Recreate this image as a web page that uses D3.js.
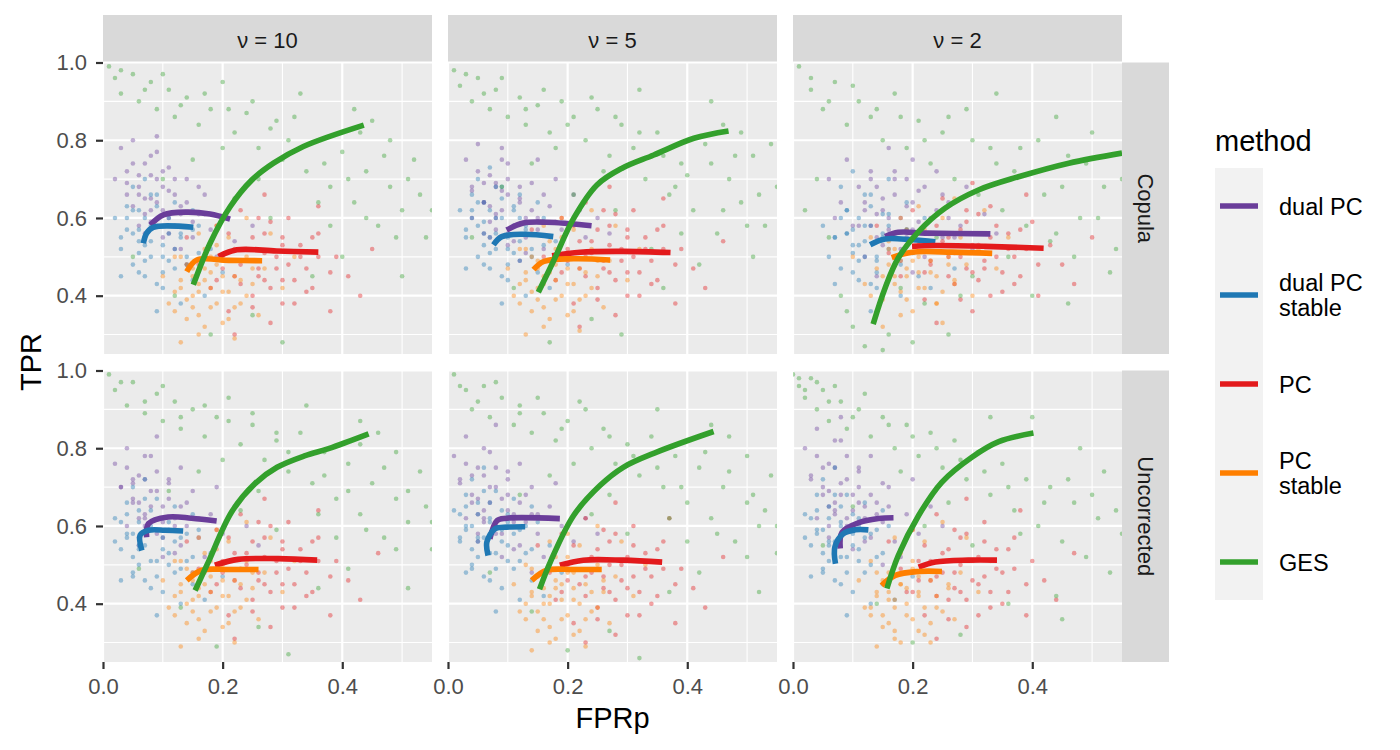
<!DOCTYPE html>
<html><head><meta charset="utf-8">
<script src="https://cdn.jsdelivr.net/npm/d3@7"></script>
<style>body{margin:0;background:#fff}text{font-family:"Liberation Sans",Arial,sans-serif}</style>
</head><body><svg id="c" width="1400" height="750"></svg>
<script>
// ---- categories ----
const nus = ["10", "5", "2"];
const corrections = ["Copula", "Uncorrected"];
const methods = ["dual PC", "dual PC\nstable", "PC", "PC\nstable", "GES"];
const methodColors = ["#6a3d9a", "#1f78b4", "#e31a1c", "#ff7f00", "#33a02c"];
const xTicks = [0, 0.2, 0.4];
const xMinor = [0.1, 0.3, 0.5];
const yTicks = [0.4, 0.6, 0.8, 1.0];
const yMinor = [0.3, 0.5, 0.7, 0.9];
const xTickLabels = ["0.0", "0.2", "0.4"];
const yTickLabels = ["0.4", "0.6", "0.8", "1.0"];
// panel order: Copula v10, Copula v5, Copula v2, Uncorrected v10, Uncorrected v5, Uncorrected v2

// ---- fitted lines (FPRp, TPR) ----
const fitDualPC = [
 [[.079,.582],[.101,.608],[.14,.615],[.179,.61],[.2125,.597]],
 [[.098,.569],[.126,.587],[.165,.589],[.24,.58]],
 [[.154,.552],[.176,.563],[.221,.561],[.33,.559]],
 [[.073,.571],[.076,.606],[.109,.623],[.148,.62],[.19,.613]],
 [[.07,.567],[.082,.614],[.098,.62],[.187,.619]],
 [[.079,.542],[.082,.584],[.109,.608],[.143,.619],[.168,.621]]
];
const fitDualPCStable = [
 [[.0675,.535],[.073,.561],[.084,.576],[.151,.576]],
 [[.076,.531],[.09,.552],[.126,.558],[.176,.552]],
 [[.129,.531],[.154,.546],[.199,.544],[.238,.539]],
 [[.065,.537],[.062,.576],[.076,.589],[.104,.589],[.134,.587]],
 [[.067,.524],[.065,.559],[.079,.593],[.098,.597],[.129,.598]],
 [[.071,.503],[.07,.546],[.084,.58],[.104,.59],[.126,.59]]
];
const fitPC = [
 [[.193,.501],[.224,.518],[.29,.515],[.36,.512]],
 [[.174,.503],[.221,.512],[.293,.514],[.372,.511]],
 [[.199,.527],[.238,.529],[.321,.527],[.419,.522]],
 [[.187,.499],[.226,.514],[.293,.516],[.358,.512]],
 [[.187,.499],[.226,.512],[.293,.512],[.358,.507]],
 [[.21,.494],[.238,.507],[.293,.512],[.341,.512]]
];
const fitPCStable = [
 [[.14,.462],[.157,.492],[.21,.491],[.266,.49]],
 [[.143,.467],[.16,.488],[.21,.495],[.271,.492]],
 [[.165,.498],[.199,.512],[.266,.512],[.333,.509]],
 [[.14,.46],[.165,.486],[.21,.488],[.26,.488]],
 [[.14,.46],[.165,.486],[.21,.488],[.257,.488]],
 [[.148,.447],[.171,.473],[.21,.483],[.249,.483]]
];
const fitGES = [
 [[.151,.428],[.179,.535],[.2125,.629],[.249,.698],[.285,.741],[.335,.784],[.436,.839]],
 [[.151,.409],[.176,.488],[.21,.599],[.249,.685],[.291,.728],[.344,.762],[.411,.805],[.469,.824]],
 [[.134,.327],[.154,.42],[.176,.497],[.21,.565],[.254,.625],[.31,.672],[.377,.706],[.461,.741],[.55,.767]],
 [[.154,.434],[.176,.507],[.215,.636],[.254,.709],[.291,.751],[.338,.781],[.377,.799],[.444,.837]],
 [[.153,.437],[.171,.507],[.21,.627],[.254,.704],[.293,.751],[.349,.79],[.444,.843]],
 [[.157,.439],[.176,.524],[.21,.627],[.249,.713],[.299,.777],[.344,.817],[.402,.839]]
];

// ---- simulation clouds (FPRp, TPR) ----
const cloudDualPC = [
 [[.03,.78],[.04,.72],[.05,.80],[.06,.68],[.07,.74],[.08,.65],[.09,.70],[.10,.62],[.11,.67],[.12,.58],[.13,.63],[.14,.70],[.15,.55],[.16,.61],[.18,.57],[.20,.60],[.22,.54],[.05,.63],[.08,.76],[.12,.52],[.06,.58],[.17,.66],[.10,.55],[.04,.66],[.19,.50],[.25,.58],[.14,.48],[.09,.81],[.02,.70],[.11,.73]],
 [[.03,.75],[.04,.68],[.05,.79],[.06,.64],[.07,.71],[.08,.61],[.09,.67],[.10,.74],[.11,.58],[.12,.65],[.13,.55],[.14,.69],[.15,.60],[.16,.52],[.17,.63],[.19,.57],[.21,.66],[.23,.55],[.25,.60],[.06,.56],[.09,.78],[.12,.49],[.18,.70],[.04,.60],[.20,.50],[.27,.56],[.15,.75],[.10,.53],[.22,.62],[.08,.69]],
 [[.06,.70],[.08,.64],[.09,.75],[.10,.58],[.11,.68],[.12,.62],[.13,.72],[.14,.55],[.15,.65],[.16,.60],[.17,.70],[.18,.52],[.19,.63],[.20,.57],[.21,.67],[.22,.50],[.23,.60],[.25,.55],[.26,.64],[.28,.58],[.30,.52],[.32,.61],[.34,.56],[.12,.50],[.16,.78],[.24,.72],[.07,.60],[.20,.46],[.29,.68],[.14,.45]],
 [[.02,.76],[.03,.70],[.04,.80],[.05,.66],[.06,.73],[.07,.62],[.08,.69],[.09,.58],[.10,.65],[.11,.72],[.12,.60],[.13,.55],[.14,.66],[.15,.62],[.16,.57],[.18,.63],[.20,.58],[.22,.65],[.04,.60],[.07,.78],[.10,.52],[.13,.75],[.17,.52],[.06,.55],[.24,.60],[.19,.70],[.09,.83],[.15,.48],[.26,.55],[.05,.71]],
 [[.01,.78],[.02,.72],[.03,.83],[.04,.66],[.05,.75],[.06,.62],[.07,.70],[.08,.58],[.09,.67],[.10,.74],[.11,.61],[.12,.55],[.13,.68],[.14,.63],[.15,.58],[.17,.65],[.19,.60],[.21,.56],[.23,.62],[.03,.62],[.06,.80],[.09,.52],[.12,.76],[.16,.52],[.05,.56],[.25,.58],[.18,.71],[.08,.86],[.14,.48],[.10,.64]],
 [[.02,.80],[.03,.72],[.04,.85],[.05,.68],[.06,.76],[.07,.64],[.08,.71],[.09,.60],[.10,.68],[.11,.75],[.12,.62],[.13,.57],[.14,.66],[.15,.61],[.16,.70],[.17,.56],[.19,.63],[.21,.58],[.23,.65],[.04,.62],[.07,.82],[.10,.54],[.13,.78],[.18,.52],[.06,.57],[.25,.60],[.20,.72],[.08,.88],[.15,.50],[.11,.66]]
];
const cloudDualPCCore = [
 [[.06,.66],[.07,.61],[.08,.71],[.09,.64],[.10,.68],[.11,.60],[.12,.66],[.07,.56],[.13,.61],[.08,.59],[.10,.72],[.05,.74],[.14,.64],[.11,.56],[.09,.77],[.06,.71],[.12,.70],[.15,.59],[.04,.69],[.08,.62],[.16,.68],[.10,.58],[.13,.52],[.07,.65],[.17,.61]],
 [[.06,.64],[.07,.59],[.08,.68],[.09,.62],[.10,.66],[.11,.58],[.12,.64],[.07,.55],[.13,.60],[.08,.57],[.10,.70],[.05,.72],[.14,.62],[.11,.54],[.09,.75],[.06,.69],[.12,.68],[.15,.57],[.04,.67],[.08,.60],[.16,.66],[.10,.56],[.13,.51],[.07,.63],[.18,.59]],
 [[.12,.64],[.13,.58],[.14,.68],[.15,.62],[.16,.57],[.17,.66],[.18,.60],[.19,.55],[.20,.64],[.21,.59],[.22,.68],[.23,.56],[.24,.62],[.17,.72],[.15,.53],[.19,.70],[.22,.53],[.14,.61],[.26,.60],[.11,.58],[.20,.75],[.25,.66],[.18,.49],[.27,.55],[.13,.70]],
 [[.05,.67],[.06,.62],[.07,.72],[.08,.65],[.09,.69],[.10,.61],[.11,.67],[.06,.57],[.12,.62],[.07,.60],[.09,.74],[.04,.75],[.13,.65],[.10,.57],[.08,.78],[.05,.72],[.11,.71],[.14,.60],[.03,.70],[.07,.63],[.15,.69],[.09,.59],[.12,.53],[.06,.66],[.16,.62]],
 [[.04,.68],[.05,.63],[.06,.73],[.07,.66],[.08,.70],[.09,.62],[.10,.68],[.05,.58],[.11,.63],[.06,.61],[.08,.75],[.03,.76],[.12,.66],[.09,.58],[.07,.79],[.04,.73],[.10,.72],[.13,.61],[.02,.71],[.06,.64],[.14,.70],[.08,.60],[.11,.54],[.05,.67],[.15,.63]],
 [[.05,.70],[.06,.65],[.07,.75],[.08,.68],[.09,.72],[.10,.64],[.11,.70],[.06,.60],[.12,.65],[.07,.63],[.09,.78],[.04,.78],[.13,.68],[.10,.60],[.08,.82],[.05,.75],[.11,.74],[.14,.63],[.03,.73],[.07,.66],[.15,.71],[.09,.62],[.12,.56],[.06,.69],[.16,.65]]
];
const cloudDualPCStable = [
 [[.02,.60],[.03,.52],[.04,.57],[.05,.48],[.06,.62],[.06,.54],[.07,.45],[.08,.58],[.08,.50],[.09,.66],[.10,.42],[.10,.53],[.11,.60],[.12,.47],[.13,.38],[.13,.56],[.14,.50],[.15,.44],[.16,.58],[.17,.40],[.18,.52],[.05,.68],[.03,.45],[.09,.36],[.12,.64],[.07,.70],[.20,.46],[.15,.62],[.04,.63],[.11,.49]],
 [[.02,.62],[.03,.55],[.04,.60],[.05,.50],[.06,.64],[.06,.56],[.07,.47],[.08,.60],[.08,.52],[.09,.68],[.10,.44],[.10,.55],[.11,.62],[.12,.49],[.13,.40],[.13,.58],[.14,.52],[.15,.46],[.16,.60],[.17,.42],[.18,.54],[.05,.70],[.03,.47],[.09,.38],[.12,.66],[.07,.73],[.20,.48],[.15,.64],[.04,.66],[.11,.51]],
 [[.05,.58],[.06,.50],[.07,.55],[.08,.47],[.09,.62],[.10,.53],[.11,.44],[.12,.58],[.12,.50],[.13,.66],[.14,.42],[.15,.55],[.16,.61],[.17,.48],[.18,.40],[.19,.57],[.20,.51],[.21,.45],[.22,.60],[.23,.42],[.25,.53],[.08,.68],[.07,.43],[.13,.36],[.16,.70],[.10,.72],[.27,.47],[.19,.64],[.09,.56],[.14,.49]],
 [[.02,.62],[.03,.54],[.04,.58],[.05,.48],[.06,.64],[.06,.55],[.07,.46],[.08,.60],[.08,.51],[.09,.67],[.10,.43],[.10,.54],[.11,.61],[.12,.48],[.13,.40],[.13,.57],[.14,.51],[.15,.45],[.16,.59],[.17,.41],[.18,.53],[.05,.70],[.03,.46],[.09,.37],[.12,.65],[.07,.72],[.20,.47],[.15,.63],[.04,.66],[.11,.50]],
 [[.01,.64],[.02,.56],[.03,.60],[.04,.50],[.05,.66],[.05,.57],[.06,.47],[.07,.62],[.07,.53],[.08,.69],[.09,.44],[.09,.56],[.10,.63],[.11,.49],[.12,.41],[.12,.59],[.13,.53],[.14,.46],[.15,.61],[.16,.42],[.17,.55],[.04,.72],[.03,.48],[.08,.38],[.11,.67],[.06,.75],[.19,.48],[.14,.65],[.03,.68],[.10,.51]],
 [[.02,.63],[.03,.55],[.04,.59],[.05,.49],[.06,.65],[.06,.56],[.07,.46],[.08,.61],[.08,.52],[.09,.68],[.10,.43],[.10,.55],[.11,.62],[.12,.48],[.13,.40],[.13,.58],[.14,.52],[.15,.45],[.16,.60],[.17,.41],[.18,.54],[.05,.72],[.03,.47],[.09,.37],[.12,.66],[.07,.75],[.20,.47],[.15,.64],[.04,.68],[.11,.51]]
];
const cloudDualPCStableCore = [
 [[.05,.56],[.06,.51],[.07,.60],[.08,.54],[.09,.58],[.10,.50],[.11,.56],[.06,.46],[.12,.52],[.07,.49],[.09,.63],[.04,.60],[.13,.55],[.10,.46],[.08,.66],[.05,.62],[.11,.61],[.14,.48],[.03,.55],[.07,.53],[.15,.57],[.09,.43],[.12,.58],[.06,.57],[.16,.51]],
 [[.05,.58],[.06,.53],[.07,.62],[.08,.56],[.09,.60],[.10,.52],[.11,.58],[.06,.48],[.12,.54],[.07,.51],[.09,.65],[.04,.62],[.13,.57],[.10,.48],[.08,.68],[.05,.64],[.11,.63],[.14,.50],[.03,.57],[.07,.55],[.15,.59],[.09,.45],[.12,.60],[.06,.59],[.16,.53]],
 [[.09,.56],[.10,.51],[.11,.60],[.12,.54],[.13,.58],[.14,.50],[.15,.56],[.10,.46],[.16,.52],[.11,.49],[.13,.63],[.08,.60],[.17,.55],[.14,.46],[.12,.66],[.09,.62],[.15,.61],[.18,.48],[.07,.55],[.11,.53],[.19,.57],[.13,.43],[.16,.58],[.10,.57],[.20,.51]],
 [[.04,.57],[.05,.52],[.06,.61],[.07,.55],[.08,.59],[.09,.51],[.10,.57],[.05,.47],[.11,.53],[.06,.50],[.08,.64],[.03,.61],[.12,.56],[.09,.47],[.07,.67],[.04,.63],[.10,.62],[.13,.49],[.02,.56],[.06,.54],[.14,.58],[.08,.44],[.11,.59],[.05,.58],[.15,.52]],
 [[.03,.59],[.04,.54],[.05,.63],[.06,.57],[.07,.61],[.08,.53],[.09,.59],[.04,.49],[.10,.55],[.05,.52],[.07,.66],[.02,.63],[.11,.58],[.08,.49],[.06,.69],[.03,.65],[.09,.64],[.12,.51],[.02,.57],[.05,.56],[.13,.60],[.07,.46],[.10,.61],[.04,.60],[.14,.54]],
 [[.04,.58],[.05,.53],[.06,.62],[.07,.56],[.08,.60],[.09,.52],[.10,.58],[.05,.48],[.11,.54],[.06,.51],[.08,.65],[.03,.62],[.12,.57],[.09,.48],[.07,.68],[.04,.64],[.10,.63],[.13,.50],[.02,.57],[.06,.55],[.14,.59],[.08,.45],[.11,.60],[.05,.59],[.15,.53]]
];
const cloudPC = [
 [[.14,.55],[.16,.48],[.18,.42],[.19,.58],[.20,.50],[.21,.36],[.22,.45],[.23,.62],[.24,.52],[.25,.40],[.26,.47],[.27,.56],[.28,.33],[.29,.50],[.30,.44],[.31,.60],[.32,.38],[.33,.53],[.34,.47],[.35,.42],[.36,.56],[.38,.36],[.39,.50],[.41,.45],[.43,.40],[.27,.66],[.22,.30],[.36,.63],[.45,.52],[.30,.55]],
 [[.14,.57],[.16,.50],[.18,.44],[.19,.60],[.20,.52],[.21,.38],[.22,.47],[.23,.64],[.24,.54],[.25,.42],[.26,.49],[.27,.58],[.28,.35],[.29,.52],[.30,.46],[.31,.62],[.32,.40],[.33,.55],[.34,.49],[.35,.44],[.36,.58],[.38,.38],[.39,.52],[.41,.47],[.43,.42],[.27,.68],[.22,.32],[.36,.65],[.46,.54],[.30,.57]],
 [[.14,.58],[.16,.51],[.18,.45],[.20,.62],[.21,.53],[.22,.39],[.23,.48],[.25,.65],[.26,.55],[.27,.43],[.28,.50],[.29,.59],[.30,.36],[.31,.53],[.32,.47],[.33,.63],[.35,.41],[.36,.56],[.37,.50],[.38,.45],[.40,.59],[.41,.40],[.43,.53],[.45,.48],[.47,.43],[.30,.69],[.24,.33],[.39,.66],[.50,.55],[.34,.58]],
 [[.14,.56],[.16,.49],[.18,.43],[.19,.59],[.20,.51],[.21,.37],[.22,.46],[.23,.63],[.24,.53],[.25,.41],[.26,.48],[.27,.57],[.28,.34],[.29,.51],[.30,.45],[.31,.61],[.32,.39],[.33,.54],[.34,.48],[.35,.43],[.36,.57],[.38,.37],[.39,.51],[.41,.46],[.43,.41],[.27,.67],[.22,.31],[.36,.64],[.46,.53],[.30,.56]],
 [[.15,.55],[.17,.48],[.18,.41],[.19,.58],[.20,.50],[.21,.35],[.22,.45],[.23,.62],[.24,.52],[.25,.39],[.26,.47],[.27,.56],[.28,.32],[.29,.50],[.30,.44],[.31,.60],[.32,.37],[.33,.53],[.34,.47],[.35,.42],[.36,.56],[.38,.35],[.39,.49],[.41,.44],[.43,.39],[.28,.66],[.23,.30],[.37,.62],[.46,.52],[.31,.55]],
 [[.16,.56],[.18,.49],[.19,.43],[.20,.59],[.21,.51],[.22,.37],[.23,.46],[.24,.63],[.25,.53],[.26,.41],[.27,.48],[.28,.57],[.29,.34],[.30,.51],[.31,.45],[.32,.61],[.33,.39],[.34,.54],[.35,.48],[.36,.43],[.37,.57],[.39,.37],[.40,.51],[.42,.46],[.44,.41],[.29,.67],[.24,.31],[.38,.64],[.47,.53],[.32,.56]]
];
const cloudPCCore = [
 [[.20,.47],[.22,.52],[.23,.43],[.24,.49],[.25,.55],[.26,.45],[.27,.51],[.28,.42],[.29,.47],[.30,.53],[.31,.48],[.32,.44],[.33,.50],[.21,.56],[.25,.37],[.28,.59],[.34,.41],[.36,.50],[.23,.48],[.30,.38],[.26,.60],[.35,.55],[.19,.44],[.38,.46],[.27,.44]],
 [[.20,.49],[.22,.54],[.23,.45],[.24,.51],[.25,.57],[.26,.47],[.27,.53],[.28,.44],[.29,.49],[.30,.55],[.31,.50],[.32,.46],[.33,.52],[.21,.58],[.25,.39],[.28,.61],[.34,.43],[.36,.52],[.23,.50],[.30,.40],[.26,.62],[.35,.57],[.19,.46],[.38,.48],[.27,.46]],
 [[.23,.49],[.25,.54],[.26,.45],[.27,.51],[.28,.57],[.29,.47],[.30,.53],[.31,.44],[.32,.49],[.33,.55],[.34,.50],[.35,.46],[.36,.52],[.24,.58],[.28,.39],[.31,.61],[.37,.43],[.39,.52],[.26,.50],[.33,.40],[.29,.62],[.38,.57],[.22,.46],[.41,.48],[.30,.46]],
 [[.20,.48],[.22,.53],[.23,.44],[.24,.50],[.25,.56],[.26,.46],[.27,.52],[.28,.43],[.29,.48],[.30,.54],[.31,.49],[.32,.45],[.33,.51],[.21,.57],[.25,.38],[.28,.60],[.34,.42],[.36,.51],[.23,.49],[.30,.39],[.26,.61],[.35,.56],[.19,.45],[.38,.47],[.27,.45]],
 [[.20,.46],[.22,.51],[.23,.42],[.24,.48],[.25,.54],[.26,.44],[.27,.50],[.28,.41],[.29,.46],[.30,.52],[.31,.47],[.32,.43],[.33,.49],[.21,.55],[.25,.36],[.28,.58],[.34,.40],[.36,.49],[.23,.47],[.30,.37],[.26,.59],[.35,.54],[.19,.43],[.38,.45],[.27,.43]],
 [[.21,.46],[.23,.51],[.24,.42],[.25,.48],[.26,.54],[.27,.44],[.28,.50],[.29,.41],[.30,.46],[.31,.52],[.32,.47],[.33,.43],[.34,.49],[.22,.55],[.26,.36],[.29,.58],[.35,.40],[.37,.49],[.24,.47],[.31,.37],[.27,.59],[.36,.54],[.20,.43],[.39,.45],[.28,.43]]
];
const cloudPCStable = [
 [[.10,.45],[.11,.38],[.12,.50],[.13,.42],[.14,.34],[.15,.47],[.15,.40],[.16,.30],[.17,.52],[.17,.44],[.18,.37],[.19,.48],[.20,.41],[.20,.33],[.21,.55],[.22,.45],[.23,.38],[.24,.50],[.25,.43],[.26,.35],[.27,.47],[.28,.56],[.30,.42],[.13,.28],[.19,.58],[.22,.29],[.32,.50],[.16,.56],[.12,.36],[.24,.60]],
 [[.10,.47],[.11,.40],[.12,.52],[.13,.44],[.14,.36],[.15,.49],[.15,.42],[.16,.32],[.17,.54],[.17,.46],[.18,.39],[.19,.50],[.20,.43],[.20,.35],[.21,.57],[.22,.47],[.23,.40],[.24,.52],[.25,.45],[.26,.37],[.27,.49],[.28,.58],[.30,.44],[.13,.30],[.19,.60],[.22,.31],[.32,.52],[.16,.58],[.12,.38],[.24,.62]],
 [[.10,.50],[.12,.43],[.13,.55],[.14,.47],[.15,.39],[.16,.52],[.17,.45],[.18,.35],[.19,.57],[.20,.49],[.21,.42],[.22,.53],[.23,.46],[.24,.38],[.25,.60],[.26,.50],[.27,.43],[.28,.55],[.29,.48],[.30,.40],[.31,.52],[.32,.62],[.34,.47],[.15,.32],[.21,.63],[.25,.33],[.36,.55],[.18,.60],[.13,.40],[.27,.65]],
 [[.10,.46],[.11,.39],[.12,.51],[.13,.43],[.14,.35],[.15,.48],[.15,.41],[.16,.31],[.17,.53],[.17,.45],[.18,.38],[.19,.49],[.20,.42],[.20,.34],[.21,.56],[.22,.46],[.23,.39],[.24,.51],[.25,.44],[.26,.36],[.27,.48],[.28,.57],[.30,.43],[.13,.29],[.19,.59],[.22,.30],[.32,.51],[.16,.57],[.12,.37],[.24,.61]],
 [[.11,.45],[.12,.38],[.13,.50],[.14,.42],[.15,.33],[.16,.47],[.16,.40],[.17,.30],[.18,.52],[.18,.44],[.19,.36],[.20,.48],[.21,.41],[.21,.32],[.22,.55],[.23,.45],[.24,.38],[.25,.50],[.26,.43],[.27,.35],[.28,.47],[.29,.56],[.31,.42],[.14,.28],[.20,.58],[.23,.29],[.33,.50],[.17,.56],[.13,.36],[.25,.60]],
 [[.11,.46],[.12,.39],[.13,.51],[.14,.43],[.15,.34],[.16,.48],[.16,.41],[.17,.31],[.18,.53],[.18,.45],[.19,.37],[.20,.49],[.21,.42],[.21,.33],[.22,.56],[.23,.46],[.24,.39],[.25,.51],[.26,.44],[.27,.36],[.28,.48],[.29,.57],[.31,.43],[.14,.29],[.20,.59],[.23,.30],[.33,.51],[.17,.57],[.13,.37],[.25,.61]]
];
const cloudPCStableCore = [
 [[.13,.44],[.14,.39],[.15,.45],[.16,.41],[.17,.47],[.18,.42],[.19,.38],[.20,.45],[.16,.35],[.18,.50],[.21,.41],[.14,.48],[.22,.37],[.17,.32],[.19,.53],[.23,.44],[.15,.37],[.20,.49],[.12,.41],[.24,.40],[.18,.46],[.16,.43],[.21,.34],[.25,.47],[.13,.50]],
 [[.13,.46],[.14,.41],[.15,.47],[.16,.43],[.17,.49],[.18,.44],[.19,.40],[.20,.47],[.16,.37],[.18,.52],[.21,.43],[.14,.50],[.22,.39],[.17,.34],[.19,.55],[.23,.46],[.15,.39],[.20,.51],[.12,.43],[.24,.42],[.18,.48],[.16,.45],[.21,.36],[.25,.49],[.13,.52]],
 [[.16,.48],[.17,.43],[.18,.49],[.19,.45],[.20,.51],[.21,.46],[.22,.42],[.23,.49],[.19,.39],[.21,.54],[.24,.45],[.17,.52],[.25,.41],[.20,.36],[.22,.57],[.26,.48],[.18,.41],[.23,.53],[.15,.45],[.27,.44],[.21,.50],[.19,.47],[.24,.38],[.28,.51],[.16,.54]],
 [[.13,.45],[.14,.40],[.15,.46],[.16,.42],[.17,.48],[.18,.43],[.19,.39],[.20,.46],[.16,.36],[.18,.51],[.21,.42],[.14,.49],[.22,.38],[.17,.33],[.19,.54],[.23,.45],[.15,.38],[.20,.50],[.12,.42],[.24,.41],[.18,.47],[.16,.44],[.21,.35],[.25,.48],[.13,.51]],
 [[.14,.43],[.15,.38],[.16,.44],[.17,.40],[.18,.46],[.19,.41],[.20,.37],[.21,.44],[.17,.34],[.19,.49],[.22,.40],[.15,.47],[.23,.36],[.18,.31],[.20,.52],[.24,.43],[.16,.36],[.21,.48],[.13,.40],[.25,.39],[.19,.45],[.17,.42],[.22,.33],[.26,.46],[.14,.49]],
 [[.14,.42],[.15,.37],[.16,.43],[.17,.39],[.18,.45],[.19,.40],[.20,.36],[.21,.43],[.17,.33],[.19,.48],[.22,.39],[.15,.46],[.23,.35],[.18,.30],[.20,.51],[.24,.42],[.16,.35],[.21,.47],[.13,.39],[.25,.38],[.19,.44],[.17,.41],[.22,.32],[.26,.45],[.14,.48]]
];
const cloudGES = [
 [[.01,.99],[.02,.96],[.03,.92],[.05,.97],[.06,.90],[.08,.95],[.09,.88],[.11,.93],[.12,.86],[.14,.91],[.16,.84],[.18,.88],[.20,.95],[.22,.82],[.24,.87],[.26,.78],[.28,.83],[.30,.75],[.32,.86],[.34,.72],[.36,.80],[.38,.68],[.40,.77],[.42,.64],[.44,.72],[.46,.58],[.48,.68],[.50,.62],[.52,.75],[.54,.55],[.40,.50],[.35,.45],[.28,.60],[.25,.35],[.18,.30],[.10,.70],[.05,.50],[.33,.92],[.45,.85],[.50,.45],[.15,.75],[.38,.58],[.30,.28],[.48,.80],[.22,.65],[.12,.40],[.53,.66],[.42,.88]],
 [[.01,.98],[.02,.94],[.04,.90],[.05,.96],[.07,.88],[.08,.93],[.10,.86],[.12,.91],[.13,.84],[.15,.89],[.17,.82],[.19,.90],[.21,.86],[.23,.80],[.25,.88],[.27,.76],[.29,.84],[.31,.78],[.33,.70],[.35,.82],[.37,.66],[.39,.74],[.41,.62],[.43,.79],[.45,.56],[.47,.70],[.49,.64],[.51,.76],[.53,.58],[.55,.68],[.42,.48],[.36,.42],[.28,.62],[.24,.34],[.17,.28],[.09,.68],[.04,.55],[.32,.93],[.46,.84],[.51,.50],[.14,.74],[.39,.56],[.29,.30],[.49,.82],[.21,.66],[.11,.42],[.34,.52],[.44,.90]],
 [[.01,.99],[.03,.93],[.05,.88],[.07,.95],[.09,.84],[.11,.90],[.13,.86],[.15,.80],[.17,.92],[.19,.78],[.21,.85],[.23,.74],[.25,.82],[.27,.70],[.29,.88],[.31,.66],[.33,.78],[.35,.62],[.37,.72],[.39,.58],[.41,.80],[.43,.54],[.45,.68],[.47,.50],[.49,.74],[.51,.60],[.53,.46],[.55,.70],[.08,.40],[.10,.32],[.12,.27],[.14,.36],[.16,.30],[.18,.42],[.20,.28],[.22,.38],[.06,.55],[.04,.70],[.26,.30],[.30,.45],[.36,.50],[.44,.86],[.50,.82],[.40,.40],[.02,.62],[.24,.55],[.46,.38],[.34,.92]],
 [[.01,.99],[.02,.95],[.04,.91],[.05,.97],[.07,.89],[.09,.94],[.10,.87],[.12,.92],[.13,.85],[.15,.90],[.17,.83],[.19,.88],[.21,.93],[.23,.81],[.25,.86],[.27,.77],[.29,.82],[.31,.74],[.33,.84],[.35,.71],[.37,.79],[.39,.67],[.41,.76],[.43,.63],[.45,.71],[.47,.57],[.49,.67],[.51,.61],[.53,.74],[.55,.54],[.41,.49],[.36,.44],[.29,.59],[.26,.34],[.19,.29],[.11,.69],[.06,.49],[.34,.91],[.46,.84],[.51,.44],[.16,.74],[.39,.57],[.31,.27],[.49,.79],[.23,.64],[.13,.39],[.54,.65],[.43,.87]],
 [[.01,.99],[.03,.95],[.04,.90],[.06,.96],[.07,.88],[.09,.93],[.11,.86],[.12,.91],[.14,.84],[.16,.89],[.18,.82],[.20,.87],[.22,.92],[.24,.80],[.26,.85],[.28,.76],[.30,.81],[.32,.73],[.34,.83],[.36,.70],[.38,.78],[.40,.66],[.42,.75],[.44,.62],[.46,.70],[.48,.56],[.50,.66],[.52,.60],[.54,.73],[.55,.53],[.42,.48],[.37,.43],[.30,.58],[.27,.33],[.20,.28],[.12,.68],[.07,.48],[.35,.90],[.47,.83],[.52,.43],[.17,.73],[.40,.56],[.32,.26],[.50,.78],[.24,.63],[.14,.38],[.53,.64],[.44,.86]],
 [[.00,.99],[.01,.96],[.02,.93],[.03,.98],[.04,.90],[.05,.95],[.06,.87],[.08,.92],[.09,.85],[.11,.90],[.13,.83],[.15,.88],[.17,.80],[.19,.86],[.21,.78],[.23,.84],[.25,.75],[.27,.82],[.29,.72],[.31,.79],[.33,.68],[.35,.76],[.37,.64],[.39,.72],[.41,.60],[.43,.70],[.45,.56],[.47,.66],[.49,.52],[.51,.62],[.53,.48],[.55,.58],[.44,.42],[.36,.40],[.30,.55],[.28,.32],[.20,.30],[.10,.65],[.05,.55],[.40,.88],[.48,.80],[.22,.60],[.14,.40],[.33,.88],[.52,.74],[.45,.36]]
];
const cloudGESExtra = [
 [[.03,.98],[.07,.93],[.10,.97],[.13,.89],[.17,.92],[.21,.88],[.25,.90],[.29,.85],[.31,.80],[.37,.74],[.41,.70],[.43,.82],[.47,.76],[.51,.70],[.55,.62],[.44,.60],[.36,.64],[.49,.55],[.26,.70],[.20,.78]],
 [[.03,.97],[.06,.92],[.09,.96],[.13,.88],[.16,.93],[.20,.84],[.24,.91],[.28,.86],[.32,.82],[.36,.76],[.40,.71],[.44,.74],[.48,.76],[.52,.66],[.54,.79],[.46,.62],[.38,.68],[.50,.58],[.26,.72],[.18,.78]],
 [[.03,.96],[.06,.90],[.10,.94],[.14,.88],[.18,.86],[.22,.80],[.26,.86],[.30,.80],[.34,.74],[.38,.78],[.42,.66],[.46,.76],[.48,.60],[.52,.68],[.54,.52],[.44,.56],[.32,.56],[.09,.36],[.15,.26],[.28,.40]],
 [[.03,.97],[.07,.92],[.10,.96],[.13,.88],[.17,.91],[.21,.87],[.25,.89],[.29,.84],[.31,.79],[.37,.73],[.41,.69],[.43,.81],[.47,.75],[.51,.69],[.55,.61],[.44,.59],[.36,.63],[.49,.54],[.26,.69],[.20,.77]],
 [[.02,.96],[.05,.92],[.08,.97],[.12,.89],[.15,.93],[.19,.85],[.23,.90],[.27,.83],[.31,.78],[.35,.75],[.39,.70],[.43,.79],[.47,.74],[.51,.68],[.55,.60],[.45,.58],[.37,.62],[.50,.52],[.27,.68],[.21,.76]],
 [[.01,.98],[.02,.95],[.04,.97],[.06,.92],[.07,.96],[.10,.88],[.12,.94],[.16,.86],[.20,.83],[.24,.80],[.28,.77],[.32,.74],[.36,.70],[.42,.66],[.46,.72],[.50,.68],[.54,.64],[.38,.58],[.26,.66],[.18,.74]]
];

// ---- assemble ----
const clouds = [
  cloudDualPC.map((a, i) => a.concat(cloudDualPCCore[i])),
  cloudDualPCStable.map((a, i) => a.concat(cloudDualPCStableCore[i])),
  cloudPC.map((a, i) => a.concat(cloudPCCore[i])),
  cloudPCStable.map((a, i) => a.concat(cloudPCStableCore[i])),
  cloudGES.map((a, i) => a.concat(cloudGESExtra[i]))
];
const fits = [fitDualPC, fitDualPCStable, fitPC, fitPCStable, fitGES];

const svg = d3.select("#c");
const font = '"Liberation Sans", Arial, sans-serif';
const colX = [103, 448, 793];
const rowY = [62.5, 370.5];
const pw = 329, ph = 291.5;
const x = d3.scaleLinear().domain([0, 0.55]).range([0, pw]);
const y = d3.scaleLinear().domain([0.25, 1.0]).range([ph, 0]);

svg.append("defs").append("clipPath").attr("id", "pclip")
  .append("rect").attr("width", pw).attr("height", ph);

// column strips
nus.forEach((nu, c) => {
  const g = svg.append("g").attr("transform", `translate(${colX[c]},15)`);
  g.append("rect").attr("width", pw).attr("height", 47.5).attr("fill", "#d9d9d9");
  g.append("text").attr("x", pw / 2).attr("y", 32.5).attr("text-anchor", "middle")
    .attr("font-size", 22).attr("fill", "#1a1a1a").text(`\u03bd = ${nu}`);
});
// row strips
corrections.forEach((cr, r) => {
  const g = svg.append("g").attr("transform", `translate(1122,${rowY[r]})`);
  g.append("rect").attr("width", 47).attr("height", ph).attr("fill", "#d9d9d9");
  g.append("text").attr("transform", `translate(16,${ph / 2}) rotate(90)`)
    .attr("text-anchor", "middle")
    .attr("font-size", 22).attr("fill", "#1a1a1a").text(cr);
});

const line = d3.line().x(d => x(d[0])).y(d => y(d[1])).curve(d3.curveCatmullRom.alpha(0.5));

corrections.forEach((cr, r) => {
  nus.forEach((nu, c) => {
    const p = r * 3 + c;
    const g = svg.append("g").attr("transform", `translate(${colX[c]},${rowY[r]})`);
    g.append("rect").attr("width", pw).attr("height", ph).attr("fill", "#ebebeb");
    g.append("g").selectAll("line").data(xMinor).join("line").attr("x1", d => x(d)).attr("x2", d => x(d))
      .attr("y1", 0).attr("y2", ph).attr("stroke", "#fff").attr("stroke-width", 1.1);
    g.append("g").selectAll("line").data(yMinor).join("line").attr("y1", d => y(d)).attr("y2", d => y(d))
      .attr("x1", 0).attr("x2", pw).attr("stroke", "#fff").attr("stroke-width", 1.1);
    g.append("g").selectAll("line").data(xTicks).join("line").attr("x1", d => x(d)).attr("x2", d => x(d))
      .attr("y1", 0).attr("y2", ph).attr("stroke", "#fff").attr("stroke-width", 2.2);
    g.append("g").selectAll("line").data(yTicks).join("line").attr("y1", d => y(d)).attr("y2", d => y(d))
      .attr("x1", 0).attr("x2", pw).attr("stroke", "#fff").attr("stroke-width", 2.2);

    const inner = g.append("g").attr("clip-path", "url(#pclip)");
    clouds.forEach((cl, m) => {
      inner.append("g").selectAll("circle").data(cl[p]).join("circle")
        .attr("cx", d => x(d[0])).attr("cy", d => y(d[1])).attr("r", 2.3)
        .attr("fill", methodColors[m]).attr("fill-opacity", 0.4);
    });
    fits.forEach((f, m) => {
      inner.append("path").attr("d", line(f[p])).attr("fill", "none")
        .attr("stroke", methodColors[m]).attr("stroke-width", 5.6);
    });

    if (c === 0) {
      const ya = g.append("g").call(d3.axisLeft(y).tickValues(yTicks).tickSize(7).tickPadding(9)
        .tickFormat((d, i) => yTickLabels[i]));
      ya.select(".domain").remove();
      ya.selectAll("line").attr("stroke", "#333").attr("stroke-width", 2.2);
      ya.selectAll("text").attr("font-size", 22).attr("fill", "#4d4d4d").attr("font-family", font);
    }
    if (r === 1) {
      const xa = g.append("g").attr("transform", `translate(0,${ph})`)
        .call(d3.axisBottom(x).tickValues(xTicks).tickSize(7).tickPadding(9)
        .tickFormat((d, i) => xTickLabels[i]));
      xa.select(".domain").remove();
      xa.selectAll("line").attr("stroke", "#333").attr("stroke-width", 2.2);
      xa.selectAll("text").attr("font-size", 22).attr("fill", "#4d4d4d").attr("font-family", font);
    }
  });
});

// axis titles
svg.append("text").attr("x", 612.5).attr("y", 728).attr("text-anchor", "middle")
  .attr("font-size", 29).attr("fill", "#000").text("FPRp");
svg.append("text").attr("transform", "translate(41,362) rotate(-90)").attr("text-anchor", "middle")
  .attr("font-size", 29).attr("fill", "#000").text("TPR");

// legend
const lg = svg.append("g");
lg.append("text").attr("x", 1215).attr("y", 150.5).attr("font-size", 29).attr("fill", "#000").text("method");
lg.append("rect").attr("x", 1215).attr("y", 168).attr("width", 48).attr("height", 432).attr("fill", "#f2f2f2");
methods.forEach((m, i) => {
  const cy = 206 + i * 89;
  lg.append("line").attr("x1", 1220).attr("x2", 1258).attr("y1", cy).attr("y2", cy)
    .attr("stroke", methodColors[i]).attr("stroke-width", 5.6);
  const parts = m.split("\n");
  const t = lg.append("text").attr("font-size", 23.5).attr("fill", "#000");
  parts.forEach((s, k) => {
    t.append("tspan").attr("x", 1279).attr("y", cy + 8.5 + (k - (parts.length - 1) / 2) * 25.5).text(s);
  });
});
</script></body></html>
